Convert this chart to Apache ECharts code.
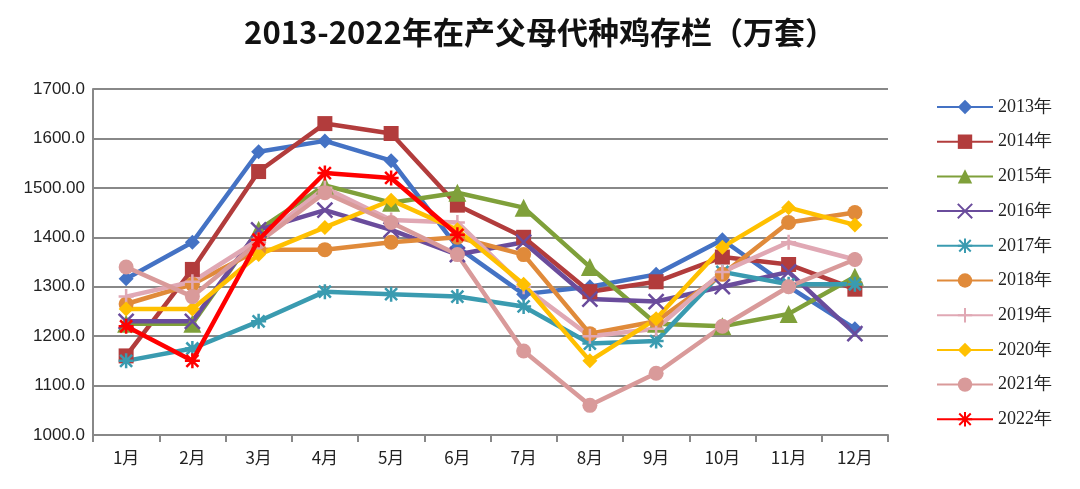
<!DOCTYPE html>
<html>
<head>
<meta charset="utf-8">
<script src="https://cdn.jsdelivr.net/npm/echarts@6/dist/echarts.min.js"></script>
<style>body{margin:0;background:#fff}#main{width:1080px;height:489px}</style>
</head>
<body>
<div id="main"></div>
<script>
var months = ['1月','2月','3月','4月','5月','6月','7月','8月','9月','10月','11月','12月'];
var names = ['2013年','2014年','2015年','2016年','2017年','2018年','2019年','2020年','2021年','2022年'];
var colors = ['#4472c4','#b23c3c','#7fa03a','#6a4c9c','#3a9bb0','#e08a3a','#e0a8b4','#ffc000','#d99a9a','#ff0000'];
var symbols = ['diamond','rect','triangle','path://M0,0L10,10M10,0L0,10','path://M5,0L5,10M0,5L10,5M1,1L9,9M9,1L1,9','circle','path://M5,0L5,10M0,5L10,5','diamond','circle','path://M5,0L5,10M0,5L10,5M1,1L9,9M9,1L1,9'];
var d2013 = [1316,1390,1573,1595,1555,1380,1285,1300,1325,1395,1300,1215];
var d2014 = [1160,1335,1533,1630,1610,1465,1400,1290,1310,1360,1345,1295];
var d2015 = [1225,1225,1415,1505,1470,1490,1460,1340,1225,1220,1245,1320];
var d2016 = [1230,1230,1415,1455,1415,1365,1390,1275,1270,1300,1330,1205];
var d2017 = [1150,1175,1230,1290,1285,1280,1260,1185,1190,1330,1305,1305];
var d2018 = [1265,1305,1375,1375,1390,1400,1365,1205,1230,1325,1430,1450];
var d2019 = [1280,1310,1395,1500,1435,1430,1300,1200,1215,1330,1390,1355];
var d2020 = [1255,1255,1365,1420,1475,1415,1305,1150,1235,1380,1460,1425];
var d2021 = [1340,1280,1390,1490,1430,1365,1170,1060,1125,1220,1300,1355];
var d2022 = [1220,1150,1395,1530,1520,1405];
var datas = [d2013,d2014,d2015,d2016,d2017,d2018,d2019,d2020,d2021,d2022];

var series = names.map(function(n, i){
  var isPath = symbols[i].indexOf('path://') === 0;
  return {
    name: n, type: 'line', data: datas[i],
    symbol: symbols[i], symbolSize: i === 2 ? 18 : 15,
    lineStyle: {width: 4.5, color: colors[i]},
    itemStyle: isPath ? {color: colors[i], borderColor: colors[i], borderWidth: 2.5} : {color: colors[i]},
    z: i === 9 ? 10 : 2
  };
});

var chart = echarts.init(document.getElementById('main'));
chart.setOption({
  animation: false,
  color: colors,
  title: {text: '2013-2022年在产父母代种鸡存栏（万套）', left: 535, top: 12, textAlign: 'center',
    textStyle: {fontFamily: 'Noto Sans CJK SC', fontSize: 31, fontWeight: 'bold', color: '#111'}},
  grid: {left: 93, right: 192, top: 89, bottom: 54},
  legend: {orient: 'vertical', left: 930, top: 96, itemGap: 16.7, itemWidth: 56, itemHeight: 18,
    padding: [2, 6, 2, 6],
    textStyle: {fontFamily: 'Liberation Serif', fontSize: 18, color: '#222'}, data: names},
  xAxis: {type: 'category', data: months, boundaryGap: true,
    axisLine: {lineStyle: {color: '#888', width: 2}},
    axisTick: {show: true, alignWithLabel: false, length: 7, lineStyle: {color: '#888', width: 2}},
    axisLabel: {fontFamily: 'Noto Sans CJK SC', fontSize: 17, color: '#222', margin: 14}},
  yAxis: {type: 'value', min: 1000, max: 1700, interval: 100,
    axisLine: {show: true, lineStyle: {color: '#888', width: 2}},
    splitLine: {lineStyle: {color: '#888', width: 2}},
    axisLabel: {fontFamily: 'Liberation Sans', fontSize: 17, color: '#222', margin: 8,
      formatter: function(v){ return v === 1500 ? '1500.00' : v.toFixed(1); }}},
  series: series
});
</script>
</body>
</html>
